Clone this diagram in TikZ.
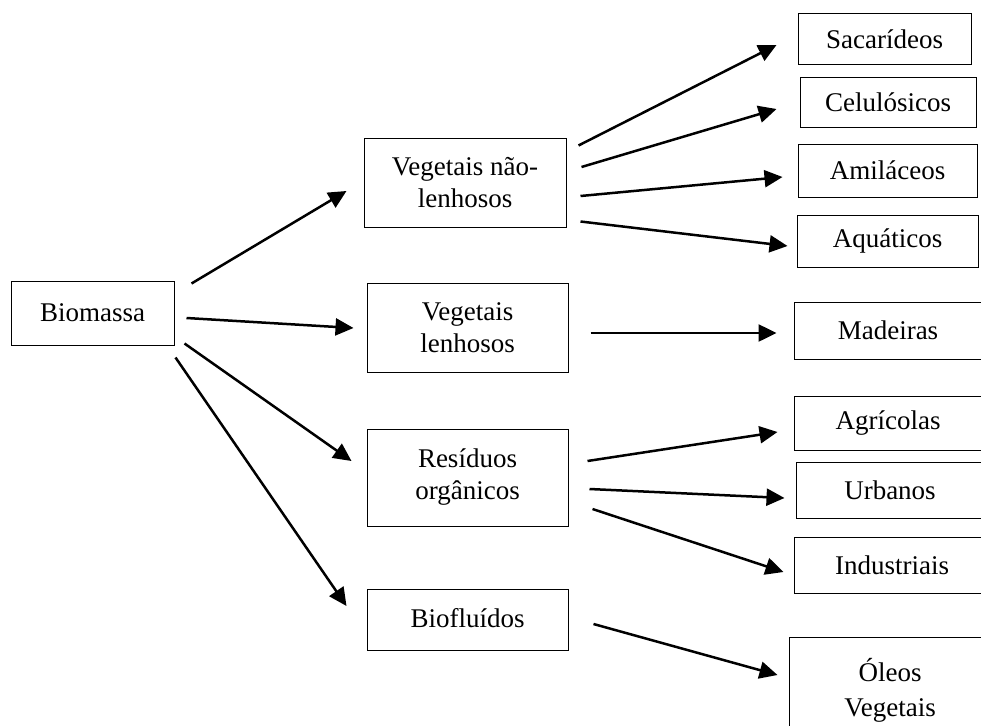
\documentclass[tikz,border=0pt]{standalone}
\usepackage{fontspec}
\setmainfont{Liberation Serif}
\usetikzlibrary{calc,arrows.meta}
\begin{document}
\begin{tikzpicture}[x=1pt,y=-1pt,
  box/.style={draw=black,line width=1pt,inner sep=0pt,align=center,
    font=\fontsize{27}{32}\selectfont},
  arr/.style={line width=2.5pt,-{Triangle[length=18pt,width=17pt]}}]
\useasboundingbox (0,0) rectangle (981,725);
\clip (0,0) rectangle (981,725);
% first level
\node[box,minimum width=163pt,minimum height=64pt] (bio) at (92.5,313) {Biomassa};
% second level
\node[box,minimum width=202pt,minimum height=89pt] (vnl) at (465,182.5) {Vegetais não-\\lenhosos};
\node[box,minimum width=201pt,minimum height=89pt] (vl) at (467.5,327.5) {Vegetais\\lenhosos};
\node[box,minimum width=201pt,minimum height=97pt] (res) at (467.5,477.5) {Resíduos\\orgânicos};
\node[box,minimum width=201pt,minimum height=61pt] (bfl) at (467.5,619.5) {\raisebox{4pt}{Biofluídos}};
% third level
\node[box,minimum width=173pt,minimum height=50pt] (sac) at (884.5,39) {Sacarídeos};
\node[box,minimum width=176pt,minimum height=50pt] (cel) at (888,102) {Celulósicos};
\node[box,minimum width=179pt,minimum height=53pt] (ami) at (887.5,170.5) {Amiláceos};
\node[box,minimum width=181pt,minimum height=52pt] (aqu) at (887.5,241) {Aquáticos};
\node[box,minimum width=188pt,minimum height=57pt] (mad) at (888,330.5) {Madeiras};
\node[box,minimum width=188pt,minimum height=54pt] (agr) at (888,423) {Agrícolas};
\node[box,minimum width=188pt,minimum height=56pt] (urb) at (890,490) {Urbanos};
\node[box,minimum width=196pt,minimum height=56pt] (ind) at (892,565) {Industriais};
\node[box,minimum width=202pt,minimum height=106pt] (ole) at (890,690) {Óleos\\[3pt]Vegetais};
% connectors from Biomassa
\draw[arr] ($(bio.north east)+(17,3)$) -- ($(vnl.west)+(-17,8.5)$);
\draw[arr] ($(bio.east)+(12,5)$) -- ($(vl.west)+(-13,0.5)$);
\draw[arr] ($(bio.south east)+(10,-2)$) -- ($(res.west)+(-15,-16.5)$);
\draw[arr] ($(bio.south east)+(1,12)$) -- ($(bfl.west)+(-20,-13.5)$);
% connectors from Vegetais nao-lenhosos
\draw[arr] ($(vnl.north east)+(12,8)$) -- ($(sac.west)+(-21,6)$);
\draw[arr] ($(vnl.east)+(15,-15.5)$) -- ($(cel.west)+(-23,7)$);
\draw[arr] ($(vnl.east)+(14,13.5)$) -- ($(ami.west)+(-15,6.5)$);
\draw[arr] ($(vnl.south east)+(14,-6)$) -- ($(aqu.west)+(-9,5)$);
% Vegetais lenhosos
\draw[arr] ($(vl.east)+(22,5.5)$) -- ($(mad.west)+(-17,2.5)$);
% Residuos
\draw[arr] ($(res.east)+(19,-16.5)$) -- ($(agr.west)+(-16,9)$);
\draw[arr] ($(res.east)+(21,11.5)$) -- ($(urb.west)+(-11,8)$);
\draw[arr] ($(res.east)+(24,31.5)$) -- ($(ind.west)+(-10,7)$);
% Biofluidos
\draw[arr] ($(bfl.east)+(25,4.5)$) -- ($(ole.west)+(-11,-15)$);
\end{tikzpicture}
\end{document}
